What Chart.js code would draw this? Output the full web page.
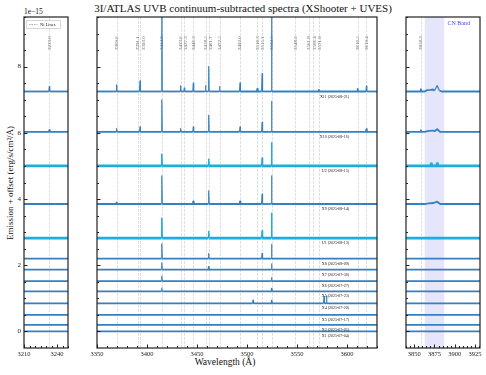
<!DOCTYPE html>
<html>
<head>
<meta charset="utf-8">
<script src="https://cdn.jsdelivr.net/npm/chart.js@4.4.0/dist/chart.umd.min.js"></script>
<style>
  body { margin: 0; background: #fff; }
  #wrap { position: relative; width: 486px; height: 375px; overflow: hidden;
          font-family: "Liberation Serif", "DejaVu Serif", serif; color: #111; }
  canvas { position: absolute; top: 0; }
  .t { position: absolute; white-space: nowrap; }
</style>
</head>
<body>
<div id="wrap">
  <div class="t" style="left:0;width:486px;text-align:center;top:2px;font-size:11px;">3I/ATLAS UVB continuum-subtracted spectra (XShooter + UVES)</div>
  <div class="t" style="left:24px;top:7px;font-size:7.5px;">1e&minus;15</div>
  <div class="t" style="left:10px;top:183px;font-size:9px;transform:translate(-50%,-50%) rotate(-90deg);">Emission + offset (erg/s/cm²/Å)</div>
  <div class="t" style="left:0;width:450px;text-align:center;top:357px;font-size:9.5px;">Wavelength (Å)</div>
  <canvas id="c1" width="72" height="375" style="left:0"></canvas>
  <canvas id="c2" width="330" height="375" style="left:55px"></canvas>
  <canvas id="c3" width="126" height="375" style="left:360px"></canvas>
</div>
<script>
// Ni I lines (Å) marked on the plot
const niLines = [3233.0, 3369.6, 3391.1, 3393.0, 3414.8, 3433.6, 3437.3, 3446.3, 3458.5, 3461.7,
                 3472.5, 3493.0, 3510.3, 3515.1, 3524.5, 3548.2, 3561.8, 3566.4, 3571.9, 3610.5,
                 3619.4, 3858.3];
const cnBand = [3863, 3887];

// spectra, top to bottom
const seriesNames = ['X11 (2025-08-21)', 'X10 (2025-08-16)', 'U2 (2025-08-15)', 'X9 (2025-08-14)',
                     'U1 (2025-08-13)', 'X8 (2025-08-09)', 'X7 (2025-07-30)', 'X6 (2025-07-27)',
                     'X5 (2025-07-23)', 'X4 (2025-07-20)', 'X3 (2025-07-17)', 'X2 (2025-07-05)',
                     'X1 (2025-07-04)'];
const seriesOffsets = [7.25, 6.03, 5.0, 3.85, 2.82, 2.2, 1.87, 1.52, 1.21, 0.85, 0.5, 0.2, 0.0];

// emission spikes [wavelength, height above offset] (1e-15 erg/s/cm2/Å)
const spikesX11 = [[3233.0, 0.15], [3369.6, 0.2], [3393.0, 0.32], [3414.8, 3.0], [3433.6, 0.17],
                   [3437.3, 0.1], [3446.3, 0.25], [3458.5, 0.18], [3461.7, 0.75], [3472.5, 0.15],
                   [3493.0, 0.26], [3510.3, 0.08], [3515.1, 0.54], [3524.5, 3.0], [3571.9, 0.05],
                   [3610.5, 0.08], [3619.4, 0.16], [3858.3, 0.07]];
const spikesX10 = [[3233.0, 0.05], [3369.6, 0.1], [3393.0, 0.15], [3414.8, 0.97], [3433.6, 0.1],
                   [3446.3, 0.15], [3461.7, 0.5], [3493.0, 0.15], [3515.1, 0.29], [3524.5, 0.92],
                   [3619.4, 0.08], [3858.3, 0.05]];
const spikesU2  = [[3414.8, 0.35], [3461.7, 0.2], [3515.1, 0.24], [3524.5, 0.7], [3871.0, 0.06], [3878.3, 0.07]];
const spikesX9  = [[3369.6, 0.05], [3414.8, 0.85], [3446.3, 0.08], [3461.7, 0.4], [3493.0, 0.08],
                   [3515.1, 0.3], [3524.5, 0.85]];
const spikesU1  = [[3414.8, 0.6], [3461.7, 0.2], [3515.1, 0.22], [3524.5, 0.75]];
const spikesX8  = [[3414.8, 0.45], [3461.7, 0.15], [3515.1, 0.16], [3524.5, 0.43]];
const spikesX7  = [[3414.8, 0.2], [3461.7, 0.08], [3524.5, 0.17]];
const spikesX6  = [[3414.8, 0.15], [3524.5, 0.11]];
const spikesX5  = [[3414.8, 0.1], [3524.5, 0.08]];
const spikesX4  = [[3506.0, 0.1], [3524.5, 0.08], [3577.0, 0.2], [3579.5, 0.22]];
const spikesX3  = [];
const spikesX2  = [];
const spikesX1  = [];

// broad CN band profile [wavelength, height above offset]
const cnX11 = [[3863, 0], [3866, 0.04], [3870, 0.05], [3873, 0.06], [3875, 0.02], [3878.3, 0.18], [3881, 0.03], [3884, 0]];
const cnX10 = [[3863, 0], [3868, 0.03], [3873, 0.04], [3875, 0.02], [3878.3, 0.08], [3882, 0]];
const cnX9  = [[3863, 0], [3868, 0.02], [3874, 0.03], [3878.3, 0.07], [3882, 0]];

const seriesSpikes = [spikesX11, spikesX10, spikesU2, spikesX9, spikesU1, spikesX8, spikesX7,
                      spikesX6, spikesX5, spikesX4, spikesX3, spikesX2, spikesX1];
const seriesCN = [cnX11, cnX10, [], cnX9, [], [], [], [], [], [], [], [], []];

// axis ranges and ticks of the three broken panels
const panelRanges = [[3210, 3250], [3350, 3630], [3840, 3931]];
const panelMajor = [[3210, 3240], [3350, 3400, 3450, 3500, 3550, 3600], [3850, 3875, 3900, 3925]];
const panelMinorStep = [5, 10, 5];
const yTicks = [0, 2, 4, 6, 8];

const blue = '#3580c0', cyan = '#1eaddc';

function buildPoints(i, range) {
  const base = seriesOffsets[i];
  const pts = [{ x: range[0], y: base }, { x: range[1], y: base }];
  seriesSpikes[i].forEach(([w, h]) => {
    if (w > range[0] && w < range[1]) {
      pts.push({ x: w - 0.45, y: base }, { x: w, y: base + h }, { x: w + 0.45, y: base });
    }
  });
  seriesCN[i].forEach(([w, h]) => {
    if (w > range[0] && w < range[1]) pts.push({ x: w, y: base + h });
  });
  return pts.sort((a, b) => a.x - b.x);
}

function decor(p) {
  return {
    id: 'decor' + p,
    beforeDatasetsDraw(chart) {
      const { ctx, chartArea: a, scales: { x } } = chart;
      ctx.save();
      // CN band shade
      if (p === 2) {
        ctx.fillStyle = '#e5e5fb';
        ctx.fillRect(x.getPixelForValue(cnBand[0]), a.top, x.getPixelForValue(cnBand[1]) - x.getPixelForValue(cnBand[0]), a.bottom - a.top);
      }
      const lines = niLines.filter(w => w > x.min && w < x.max);
      ctx.strokeStyle = 'rgba(120,120,120,0.22)';
      ctx.lineWidth = 1;
      ctx.setLineDash([3, 1]);
      lines.forEach(w => {
        const px = Math.round(x.getPixelForValue(w)) + 0.5;
        ctx.beginPath(); ctx.moveTo(px, a.top); ctx.lineTo(px, a.bottom); ctx.stroke();
      });
      ctx.setLineDash([]);
      // rotated labels, spread so they don't overlap
      let last = -100;
      ctx.fillStyle = '#666';
      ctx.font = '5px "Liberation Serif"';
      ctx.textAlign = 'left';
      ctx.textBaseline = 'middle';
      lines.forEach(w => {
        let px = x.getPixelForValue(w);
        if (px - last < 5.5) px = last + 5.5;
        last = px;
        ctx.save();
        ctx.translate(px, 50);
        ctx.rotate(-Math.PI / 2);
        ctx.fillText(w.toFixed(1), 0, 0);
        ctx.restore();
      });
      ctx.restore();
    },
    afterDatasetsDraw(chart) {
      const { ctx, chartArea: a, scales: { x, y } } = chart;
      ctx.save();
      ctx.strokeStyle = '#222';
      ctx.lineWidth = 1;
      // inward ticks
      ctx.beginPath();
      const r = panelRanges[p];
      for (let v = Math.ceil(r[0] / panelMinorStep[p]) * panelMinorStep[p]; v <= r[1]; v += panelMinorStep[p]) {
        const len = panelMajor[p].includes(v) ? 3.5 : 2;
        const px = Math.round(x.getPixelForValue(v)) + 0.5;
        ctx.moveTo(px, a.bottom); ctx.lineTo(px, a.bottom - len);
      }
      for (let v = 0; v <= 9.5; v += 0.5) {
        const len = yTicks.includes(v) ? 3.5 : 2;
        const py = Math.round(y.getPixelForValue(v)) + 0.5;
        ctx.moveTo(a.left, py); ctx.lineTo(a.left + len, py);
      }
      ctx.stroke();
      // frame
      ctx.lineWidth = 1.2;
      ctx.strokeRect(a.left, a.top, a.right - a.left, a.bottom - a.top);
      // series labels
      if (p === 1) {
        ctx.fillStyle = '#222';
        ctx.font = '4px "Liberation Serif"';
        ctx.textAlign = 'right';
        ctx.textBaseline = 'middle';
        seriesNames.forEach((n, i) => {
          ctx.fillText(n, x.getPixelForValue(3602), y.getPixelForValue(seriesOffsets[i]) + 5);
        });
      }
      // legend
      if (p === 0) {
        ctx.fillStyle = 'rgba(255,255,255,0.9)';
        ctx.strokeStyle = '#ccc';
        ctx.lineWidth = 0.8;
        ctx.fillRect(a.left + 2.5, a.top + 3.5, 34, 8);
        ctx.strokeRect(a.left + 2.5, a.top + 3.5, 34, 8);
        ctx.strokeStyle = '#999';
        ctx.setLineDash([1.5, 1]);
        ctx.beginPath(); ctx.moveTo(a.left + 5, a.top + 7.5); ctx.lineTo(a.left + 13.5, a.top + 7.5); ctx.stroke();
        ctx.setLineDash([]);
        ctx.fillStyle = '#222';
        ctx.font = '4.5px "Liberation Serif"';
        ctx.textBaseline = 'middle';
        ctx.fillText('Ni Lines', a.left + 16, a.top + 7.6);
      }
      if (p === 2) {
        ctx.fillStyle = '#4a4af5';
        ctx.font = '6px "Liberation Serif"';
        ctx.textAlign = 'right';
        ctx.textBaseline = 'middle';
        ctx.fillText('CN Band', a.right - 10, a.top + 6.5);
      }
      ctx.restore();
    }
  };
}

const paddings = [{ left: 0, right: 4, top: 17, bottom: 0 },
                  { left: 18, right: 8, top: 17, bottom: 0 },
                  { left: 22, right: 6, top: 17, bottom: 0 }];

['c1', 'c2', 'c3'].forEach((id, p) => {
  new Chart(document.getElementById(id), {
    type: 'line',
    data: {
      datasets: seriesNames.map((n, i) => {
        const uves = n.startsWith('U');
        const w = uves ? 2.8 : 1.8;
        return {
          label: n,
          data: buildPoints(i, panelRanges[p]),
          borderColor: uves ? cyan : blue,
          borderWidth: w,
          borderJoinStyle: 'round',
          // steep spike segments drawn thinner, like the narrow lines in the spectra
          segment: {
            borderWidth: c => Math.abs(c.p1.parsed.y - c.p0.parsed.y) > 0.09 ? (uves ? 1.5 : 1.2) : w
          },
          pointRadius: 0,
          tension: 0,
          fill: false
        };
      })
    },
    options: {
      responsive: false,
      animation: false,
      events: [],
      layout: { padding: paddings[p] },
      plugins: { legend: { display: false }, tooltip: { enabled: false } },
      scales: {
        x: {
          type: 'linear',
          min: panelRanges[p][0],
          max: panelRanges[p][1],
          grid: { display: false, drawTicks: false },
          border: { display: false },
          ticks: {
            autoSkip: false, maxRotation: 0, padding: 2, color: '#222',
            font: { family: 'Liberation Serif', size: 6.5 },
            callback: v => String(v)
          },
          afterBuildTicks: s => { s.ticks = panelMajor[p].map(v => ({ value: v })); },
          afterFit: s => { s.height = 27; }
        },
        y: {
          min: -0.5,
          max: 9.5,
          display: p === 0,
          grid: { display: false, drawTicks: false },
          border: { display: false },
          ticks: {
            padding: 3, color: '#222',
            font: { family: 'Liberation Serif', size: 7 },
            callback: v => String(v)
          },
          afterBuildTicks: s => { s.ticks = yTicks.map(v => ({ value: v })); },
          afterFit: s => { s.width = 24; }
        }
      }
    },
    plugins: [decor(p)]
  });
});
</script>
</body>
</html>
